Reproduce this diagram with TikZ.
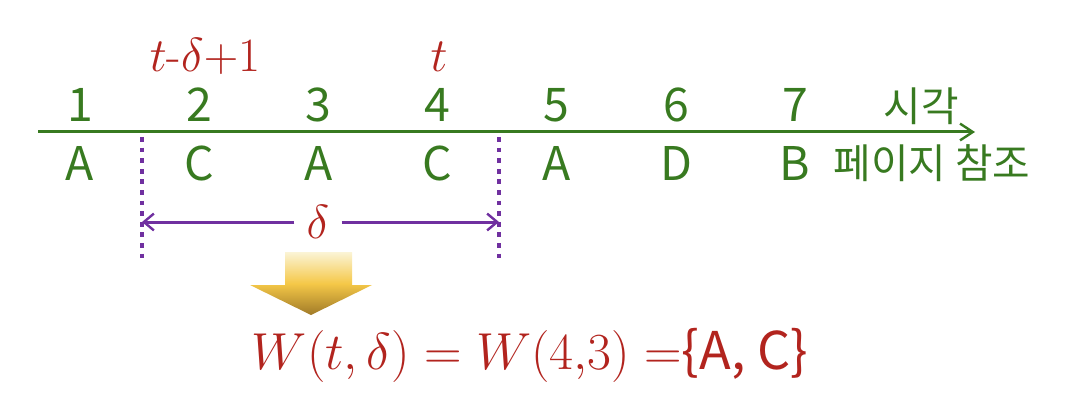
\documentclass[tikz,border=0pt]{standalone}
\usepackage{fix-cm}
\usepackage{fontspec}
\newfontfamily\krfont{Noto Sans CJK KR}
\usetikzlibrary{arrows.meta,positioning}
\definecolor{timegreen}{RGB}{56,122,32}
\definecolor{labelred}{RGB}{178,36,30}
\definecolor{winpurple}{RGB}{112,48,160}
\definecolor{goldlight}{RGB}{251,244,214}
\definecolor{goldmid}{RGB}{245,200,72}
\definecolor{golddark}{RGB}{160,122,40}
\tikzset{
  tick/.style={text=timegreen, font=\krfont\fontsize{33}{33}\selectfont, inner sep=0pt, anchor=base},
  krlabel/.style={text=timegreen, font=\krfont\fontsize{29}{29}\selectfont, inner sep=0pt, anchor=base},
  winlabel/.style={text=labelred, font=\fontsize{34}{34}\selectfont, inner sep=0pt, anchor=base},
  deltalabel/.style={text=labelred, font=\fontsize{34}{34}\selectfont, inner xsep=0.3cm, inner ysep=0pt},
  formula/.style={text=labelred, font=\fontsize{37}{37}\selectfont, inner sep=0pt, anchor=base},
  axis/.style={timegreen, line width=0.075cm, -{Straight Barb[length=0.32cm, width=0.42cm, line width=0.06cm]}},
  bound/.style={winpurple, line width=0.12cm, dash pattern=on 0.12cm off 0.145cm},
  span/.style={winpurple, line width=0.075cm, -{Straight Barb[length=0.25cm, width=0.42cm, line width=0.06cm]}}
}
\begin{document}
\begin{tikzpicture}[x=0.025cm, y=-0.025cm]
  \useasboundingbox (0,0) rectangle (1076,400);

  % time axis
  \coordinate (axisstart) at (38,132);
  \coordinate (axisend) at (975,132);
  \draw[axis] (axisstart) -- (axisend);

  \foreach \tm/\pg [count=\i] in {1/A,2/C,3/A,4/C,5/A,6/D,7/B}{
    \node[tick] (t\i) at ({80+119.2*(\i-1)},122) {\tm};
    \node[tick] (p\i) at ({80+119.2*(\i-1)},180) {\pg};
  }
  \node[krlabel] (timelabel) at (921,122) {시각};
  \node[krlabel] (reflabel) at (932,178) {페이지 참조};

  % window
  \node[winlabel] (winstart) at (205,72) {$t$-$\delta{+}1$};
  \node[winlabel] (now) at (439,72) {$t$};

  \coordinate (lefttop) at (142,137);
  \coordinate (leftbot) at (142,262);
  \coordinate (righttop) at (499,137);
  \coordinate (rightbot) at (499,262);
  \draw[bound] (lefttop) -- (leftbot);
  \draw[bound] (righttop) -- (rightbot);

  \coordinate (leftmid) at (142,222);
  \coordinate (rightmid) at (499,222);
  \node[deltalabel] (delta) at (318,222) {$\delta$};
  \draw[span] (delta.west) -- (leftmid);
  \draw[span] (delta.east) -- (rightmid);

  % result
  \shade[top color=goldlight, bottom color=golddark, middle color=goldmid]
    (285,252) -- (352,252) -- (352,285) -- (372,285) -- (311,315)
    -- (250,285) -- (285,285) -- cycle;
  \node[formula] (wset) at (530,369) {$W(t,\delta) = W(4{,}3) =$\krfont\{A, C\}};
\end{tikzpicture}
\end{document}
